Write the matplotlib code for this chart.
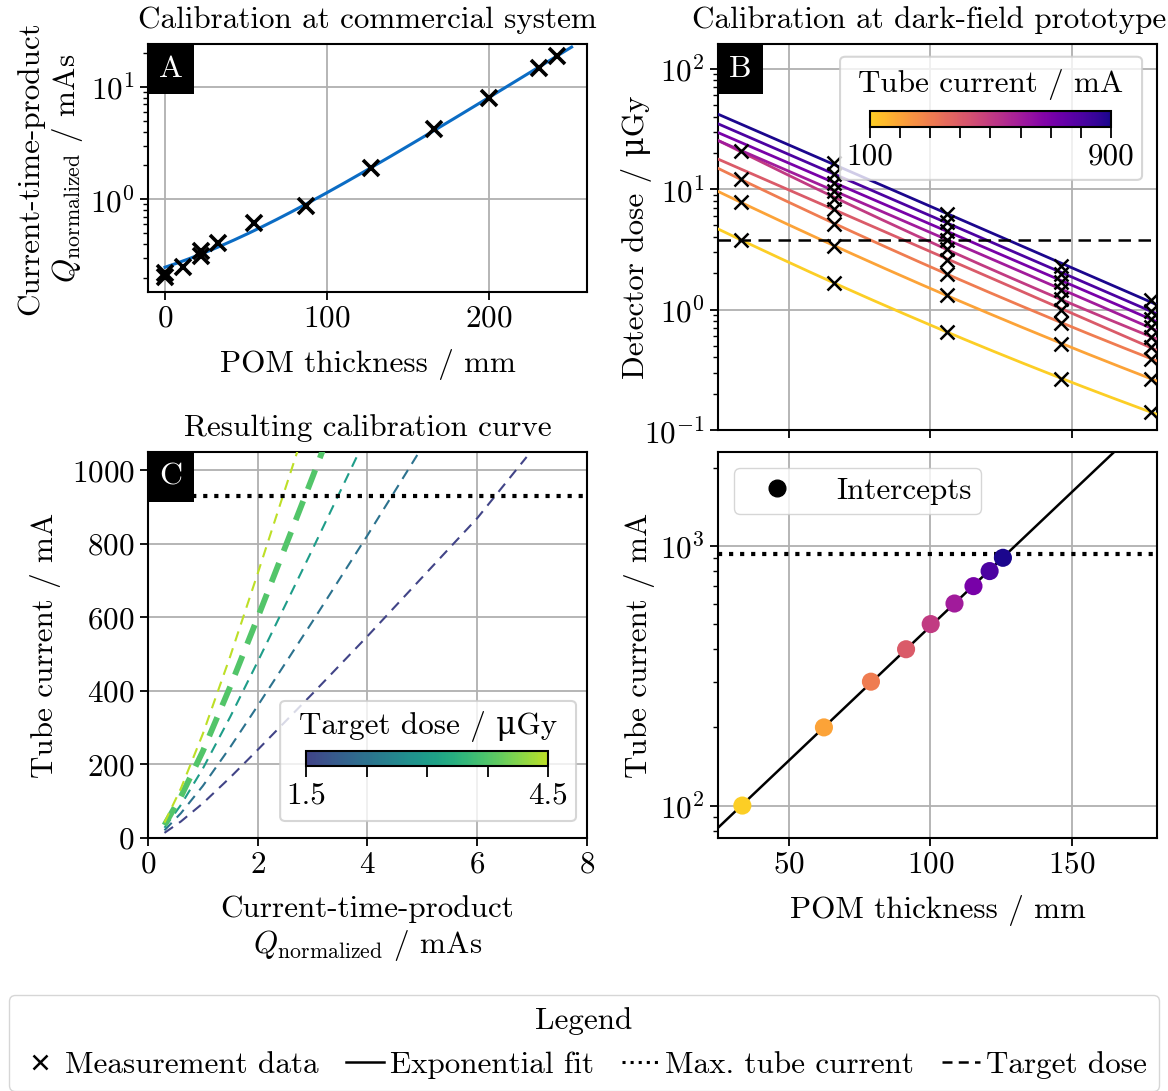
import numpy as np
import matplotlib
matplotlib.use("Agg")
import matplotlib.pyplot as plt
from matplotlib.colors import ListedColormap, Normalize
from matplotlib.patches import FancyBboxPatch
from matplotlib.lines import Line2D
from matplotlib.cm import ScalarMappable

FS = 22.4
plt.rcParams.update({
    "font.family": ["cmr10", "DejaVu Serif"],
    "mathtext.fontset": "cm",
    "axes.formatter.use_mathtext": True,
    "font.size": FS,
    "axes.linewidth": 1.5,
    "xtick.major.width": 1.3, "ytick.major.width": 1.3,
    "xtick.minor.width": 1.0, "ytick.minor.width": 1.0,
    "xtick.major.size": 6, "ytick.major.size": 6,
    "xtick.minor.size": 3.5, "ytick.minor.size": 3.5,
    "grid.color": "#b0b0b0", "grid.linewidth": 1.3,
})

# ---------------- data ----------------
# Panel A: commercial system calibration
thick_A = [0, 0, 11, 22, 22, 33, 55, 87, 127, 166, 200, 231, 242]
q_A = [0.205, 0.22, 0.252, 0.315, 0.345, 0.406, 0.62, 0.877, 1.91, 4.21, 7.93, 14.7, 18.8]
fitA_a, fitA_b, fitA_c = 0.134, 0.0204, 0.115   # Q = a*exp(b*x) + c
fitA_xmax = 251

# Panel B: detector dose vs thickness for tube currents
thick_B = [33, 66, 106, 146, 178]
currents_B = [100, 200, 300, 400, 500, 600, 700, 800, 900]
nan = np.nan
dose_100 = [3.78, 1.67, 0.65, 0.267, 0.141]
dose_200 = [7.76, 3.39, 1.31, 0.52, 0.267]
dose_300 = [12.1, 5.13, 1.98, 0.78, 0.39]
dose_400 = [nan, 6.83, 2.60, 1.00, 0.49]
dose_500 = [20.7, 8.30, 3.20, 1.22, 0.59]
dose_600 = [nan, 9.70, 3.80, 1.45, 0.71]
dose_700 = [nan, 11.3, 4.50, 1.70, 0.84]
dose_800 = [nan, 13.3, 5.30, 1.98, 0.98]
dose_900 = [nan, 16.3, 6.20, 2.30, 1.20]
doses_B = [dose_100, dose_200, dose_300, dose_400, dose_500,
           dose_600, dose_700, dose_800, dose_900]
target_dose = 3.75

# Panel C: tube current per target dose vs current-time product
q_C = [0.30, 0.60, 1.0, 1.5, 2.0, 3.0, 4.0, 5.0, 6.0, 6.9]
current_per_dose_C = [9.3, 30, 63, 110, 160, 262, 366, 473, 580, 691]
target_doses_C = [1.5, 2.25, 3.0, 3.75, 4.5]
max_current = 930

# Panel D: intercepts of B curves with target dose
intercept_thick = [33.6, 62.4, 79.0, 91.4, 100.1, 108.5, 115.2, 120.9, 125.6]
intercept_current = [100, 200, 300, 400, 500, 600, 700, 800, 900]

# ---------------- styles ----------------
cmap_I = ListedColormap(plt.get_cmap("plasma")(np.linspace(0.9, 0.02, 256)))
norm_I = Normalize(100, 900)
cmap_D = ListedColormap(plt.get_cmap("viridis")(np.linspace(0.2, 0.9, 256)))
norm_D = Normalize(1.5, 4.5)
MU = "\u03bc"

W, H = 1168, 1091
fig = plt.figure(figsize=(W / 100, H / 100), dpi=100)


def px_axes(l, t, r, b):
    return fig.add_axes([l / W, 1 - b / H, (r - l) / W, (b - t) / H])


axA = px_axes(148, 44, 587, 292)
axB = px_axes(718, 44, 1157, 430)
axC = px_axes(148, 452, 587, 838)
axD = px_axes(718, 452, 1157, 838)


def panel_label(ax, s):
    ax.annotate(s, xy=(0, 1), xycoords="axes fraction", xytext=(8, -8),
                textcoords="offset points", ha="left", va="top", color="white",
                fontsize=23, zorder=20,
                bbox=dict(boxstyle="square,pad=0.36", fc="black", ec="none"))


def cbar_box(ax, box, cax_pos, title, title_pos, cmap, norm, ticks, labels):
    patch = FancyBboxPatch((box[0], box[1]), box[2], box[3],
                           boxstyle="round,pad=0,rounding_size=0.012",
                           transform=ax.transAxes, fc="white", ec="#cccccc",
                           lw=1.5, alpha=0.8, zorder=8)
    ax.add_patch(patch)
    ax.text(title_pos[0], title_pos[1], title, transform=ax.transAxes,
            ha="center", va="center", fontsize=FS, zorder=9)
    cax = ax.inset_axes(cax_pos, zorder=9)
    cb = fig.colorbar(ScalarMappable(norm=norm, cmap=cmap), cax=cax,
                      orientation="horizontal", ticks=ticks)
    cb.ax.set_xticklabels(labels)
    cb.ax.tick_params(length=8, width=1.3, labelsize=FS)
    cb.outline.set_linewidth(1.5)
    return cb


# ---------------- Panel A ----------------
xf = np.linspace(0, fitA_xmax, 300)
axA.plot(xf, fitA_a * np.exp(fitA_b * xf) + fitA_c, color="#0b6cc4", lw=2.2, zorder=3)
axA.plot(thick_A, q_A, ls="none", marker="x", color="black", ms=12, mew=2.6, zorder=4)
axA.set_yscale("log")
axA.set_xlim(-10.5, 260.5)
axA.set_ylim(0.15, 24)
axA.set_xticks([0, 100, 200])
axA.grid(True, which="major")
axA.set_axisbelow(True)
axA.set_xlabel("POM thickness / mm", labelpad=12)
axA.set_ylabel("Current-time-product\n$Q_\\mathrm{normalized}$ / mAs")
axA.set_title("Calibration at commercial system", fontsize=FS, pad=11.5)
panel_label(axA, "A")

# ---------------- Panel B ----------------
xb = np.linspace(25, 180, 300)
for I, d in zip(currents_B, doses_B):
    x = np.array(thick_B, float)
    y = np.array(d, float)
    m = ~np.isnan(y)
    deg = 2 if m.sum() >= 5 else 1
    p = np.polyfit(x[m], np.log(y[m]), deg)
    axB.plot(xb, np.exp(np.polyval(p, xb)), color=cmap_I(norm_I(I)), lw=2.0, zorder=3)
for I, d in zip(currents_B, doses_B):
    axB.plot(thick_B, d, ls="none", marker="x", color="black", ms=10, mew=1.8, zorder=4)
axB.axhline(target_dose, color="black", lw=1.8, dashes=(5, 3), zorder=3)
axB.set_yscale("log")
axB.set_xlim(25, 180)
axB.set_ylim(0.1, 160)
axB.set_xticks([50, 100, 150])
axB.tick_params(axis="x", labelbottom=False)
axB.grid(True, which="major")
axB.set_axisbelow(True)
axB.set_ylabel(f"Detector dose / {MU}Gy", labelpad=-6)
axB.set_title("Calibration at dark-field prototype", fontsize=FS, pad=11.5, x=0.48)
panel_label(axB, "B")
cbar_box(axB, (0.278, 0.648, 0.688, 0.319), [0.346, 0.785, 0.549, 0.0415],
         "Tube current / mA", (0.62, 0.894), cmap_I, norm_I,
         currents_B, ["100"] + [""] * 7 + ["900"])

# ---------------- Panel C ----------------
qc = np.array(q_C)
hc = np.array(current_per_dose_C)
for D in target_doses_C:
    if D == target_dose:
        axC.plot(qc, D * hc, color=cmap_D(norm_D(D)), lw=4.2, dashes=(3.5, 2.2), zorder=3)
    else:
        axC.plot(qc, D * hc, color=cmap_D(norm_D(D)), lw=1.5, dashes=(5, 3.5), zorder=3)
axC.axhline(max_current, color="black", lw=3, ls=":", zorder=3)
axC.set_xlim(0, 8)
axC.set_ylim(0, 1050)
axC.set_xticks([0, 2, 4, 6, 8])
axC.set_yticks([0, 200, 400, 600, 800, 1000])
axC.grid(True, which="major")
axC.set_axisbelow(True)
axC.set_xlabel("Current-time-product\n$Q_\\mathrm{normalized}$ / mAs", labelpad=12)
axC.set_ylabel("Tube current / mA", labelpad=7.5)
axC.set_title("Resulting calibration curve", fontsize=FS, pad=11.5)
panel_label(axC, "C")
cbar_box(axC, (0.301, 0.044, 0.674, 0.311), [0.361, 0.186, 0.550, 0.0396],
         f"Target dose / {MU}Gy", (0.639, 0.288), cmap_D, norm_D,
         target_doses_C, ["1.5", "", "", "", "4.5"])

# ---------------- Panel D ----------------
pD = np.polyfit(intercept_thick, np.log(intercept_current), 1)
xd = np.linspace(25, 180, 300)
axD.plot(xd, np.exp(np.polyval(pD, xd)), color="black", lw=1.8, zorder=3)
axD.scatter(intercept_thick, intercept_current, c=intercept_current, cmap=cmap_I,
            norm=norm_I, s=170, zorder=4, edgecolors="none")
axD.axhline(max_current, color="black", lw=3, ls=":", zorder=3)
axD.set_yscale("log")
axD.set_xlim(25, 180)
axD.set_ylim(75, 2300)
axD.set_xticks([50, 100, 150])
axD.grid(True, which="major")
axD.set_axisbelow(True)
axD.set_xlabel("POM thickness / mm", labelpad=12)
axD.set_ylabel("Tube current / mA")
axD.legend(handles=[Line2D([], [], marker="o", color="black", ls="none", ms=12)],
           labels=["Intercepts"], loc="upper left", fontsize=FS, handlelength=2.2,
           handletextpad=0.8, borderpad=0.3, framealpha=0.8)

# ---------------- Figure legend ----------------
handles = [
    Line2D([], [], marker="x", color="black", ls="none", ms=10, mew=1.8),
    Line2D([], [], color="black", lw=1.8),
    Line2D([], [], color="black", lw=2.2, ls=":"),
    Line2D([], [], color="black", lw=1.8, dashes=(4, 2.5)),
]
labels = ["Measurement data", "Exponential fit", "Max. tube current", "Target dose"]
fig.legend(handles, labels, loc="upper center", bbox_to_anchor=(0.5, 1 - 995 / H),
           ncol=4, title="Legend", fontsize=FS, title_fontsize=FS,
           handlelength=1.2, handletextpad=0.2, columnspacing=0.9,
           framealpha=0.8, borderpad=0.4, borderaxespad=0)

fig.savefig("out.png", dpi=100)
